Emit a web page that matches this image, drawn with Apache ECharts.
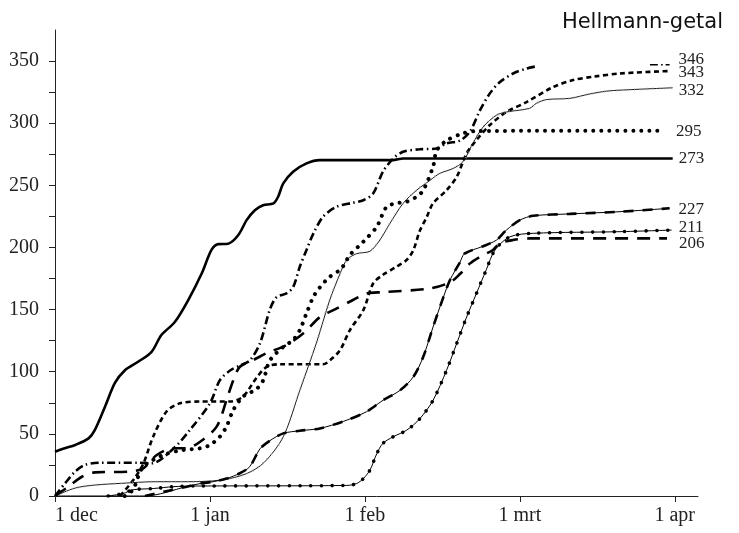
<!DOCTYPE html>
<html><head><meta charset="utf-8">
<script src="https://cdn.jsdelivr.net/npm/echarts@6.0.0/dist/echarts.min.js"></script>
<style>html,body{margin:0;padding:0;background:#fff}#c{width:739px;height:533px}</style>
</head><body><div id="c"></div>
<script>
// x unit: one month = 30 units (months are drawn equally wide); 0 = 1 dec
const monthLabels = ['1 dec', '1 jan', '1 feb', '1 mrt', '1 apr'];
const monthTicks = [0, 30, 60, 90, 120];
const yTicks = [0, 25, 50, 75, 100, 125, 150, 175, 200, 225, 250, 275, 300, 325, 350];
const yLabels = [0, 50, 100, 150, 200, 250, 300, 350];

const s273 = [[0,35.6],[1.9,38.4],[3.9,41],[6.5,46.4],[7.7,53],[9.7,72],[11.6,91],[13.5,101],[16.1,108],[18.7,116],[20.6,129.5],[23.2,140],[25.8,157.7],[28.4,179],[30.3,198],[31.6,202.7],[33.5,203],[35.5,210],[37.1,222],[38.7,230],[40.3,234],[42.3,235.5],[43.2,240.8],[44.2,251.6],[46.1,261],[48.7,267.7],[51.3,270.3],[65.4,270.3],[67.4,271.6],[119.6,271.6]];
const s346 = [[0,0],[1.9,10],[3.9,19.6],[5.8,25],[8.4,26.8],[16.1,26.8],[18.7,26.3],[22.9,38],[26.1,53],[30,74.6],[31.9,93],[33.9,101],[35.8,105],[37.7,109],[39.7,123],[41.6,150],[42.9,160],[44.8,163],[46.1,168],[47.4,184.5],[48.7,198],[50,211],[51.9,224.7],[54.5,232.7],[57.7,236],[59.7,238],[61.6,243.5],[63.5,261],[65.5,271.6],[67.4,277],[70.6,279],[73.9,279.6],[75.8,283.7],[78.4,286],[80.3,293],[82.3,310.5],[84.2,324],[86.1,333],[88.7,340],[91.3,344],[93.5,346]];
const s346end = [[115.2,347],[119,347]];
const s343 = [[12.6,0],[15.2,13],[17.1,26],[19,47.7],[21.6,68],[24.2,74.6],[28.1,76],[33.9,76],[36.4,80],[39,95],[41,104],[43.5,106],[51.9,106],[53.2,109],[55.2,117.5],[57.1,133.5],[59.7,149.6],[61.6,171],[63.5,178],[66.1,184.5],[68.1,190],[69.4,198],[70.6,213],[72,224.7],[73.2,235.5],[75.8,246],[77.8,257],[79.7,275.7],[81.6,286.4],[84.2,298.5],[87.4,309],[91.3,317],[96.4,329],[100.3,334.7],[104.2,337.4],[109.4,340],[119,342]];
const s332 = [[0,0],[3.9,6.4],[7.7,8.8],[12.9,10.2],[19.4,11.5],[25.8,11.5],[32.3,12.9],[37.1,18],[40.5,27],[44.2,47.7],[47.4,85],[50.6,123],[53.2,157.7],[55.2,179],[56.5,190],[58.4,195],[61,197],[62.9,206],[64.8,219],[67.4,235.5],[70,246],[72.6,254],[74.5,259.6],[77.1,263.6],[79,269],[80.9,283.7],[82.9,297],[85.5,306.5],[87.4,309],[91.9,312],[93.2,316],[95.2,319],[99.7,320],[103.5,323.5],[106.8,325.8],[109.4,326.6],[119.6,328.5]];
const s295 = [[13.5,0],[15.1,5],[16.1,15.5],[17.1,23.6],[19,29],[21.6,34],[24.8,37],[28.1,38.4],[30,41],[31.9,47.7],[33.2,55.8],[34.5,69],[36.4,80],[39,86],[40.3,93],[41.6,109],[44.2,120],[46.1,125.5],[47.4,133.5],[48.7,147],[50,160],[51.3,168],[53.2,176.4],[55.2,182],[56.1,187],[57.1,194],[59.7,204.6],[62.3,216.7],[64.2,232.7],[66.1,235.5],[68.1,236.8],[70,240.8],[71.3,246],[73.2,265],[73.9,278],[75.8,286],[79,291.8],[81.6,293.7],[117.7,294]];
const s206 = [[0,0],[2.6,7.5],[5.2,15.5],[7.7,19],[14.5,19.6],[17.1,22.3],[19.7,33],[22.9,38.4],[25.5,38.4],[28.1,43.7],[31.3,55.8],[33.2,77],[34.5,93],[35.8,104],[38.4,109.4],[41,115],[44.8,121.5],[48.1,131],[51.3,144],[53.9,149.6],[57.7,157.7],[60.3,163],[63.5,164],[72.6,167],[76.5,172],[78.4,178.6],[80.3,187],[82.3,192.5],[84.8,198],[86.1,203.3],[88.7,206],[91.9,207.3],[118.5,207.3]];
const s227 = [[0,0],[17.4,0],[25.5,7.5],[28.1,10],[30.6,11.5],[33.2,14],[35.8,18.3],[37.7,23.6],[39.7,38],[41.6,44.5],[44.2,50.4],[47.4,52.5],[51.3,54.4],[55.8,60],[60.3,67.8],[63.5,77],[66.8,85],[69.4,96],[71.3,112],[73.2,136],[75.2,160],[76.5,174],[78.4,188],[79.3,195],[82.9,201],[85.5,206],[87.4,214],[90,222],[92.6,225.5],[99.7,227],[109.4,228.8],[119,231.5]];
const s211 = [[10.3,0],[13.2,2],[15.1,5],[19,6],[22.9,7.5],[26.8,8],[56.5,8.5],[58.4,10],[59.7,14],[61,21],[62.3,34],[63.5,42.4],[65.5,47.7],[68.1,53],[70.6,62],[73.2,77],[75.8,101],[77.8,123],[79.7,144],[81.6,163],[83.5,182],[85.2,198],[88.1,208.6],[92.6,211.4],[109.4,212.7],[119.4,214]];

const SERIF = 'Liberation Serif';
function line(data, ls, extra) {
  return Object.assign({
    type: 'line', data: data, smooth: 0.3,
    symbol: 'none', showSymbol: false, silent: true, animation: false,
    lineStyle: Object.assign({ color: '#000', width: 1 }, ls)
  }, extra || {});
}
function endLab(text, dist, dy) {
  return { endLabel: { show: true, formatter: text, distance: dist, offset: [0, dy],
    fontFamily: SERIF, fontSize: 17, color: '#222' } };
}

const chart = echarts.init(document.getElementById('c'), null, { renderer: 'canvas' });
chart.setOption({
  animation: false,
  backgroundColor: '#fff',
  title: { text: 'Hellmann-getal', right: 11, top: 7,
    textStyle: { fontFamily: 'DejaVu Sans', fontSize: 21, fontWeight: 'normal', color: '#111' } },
  grid: { left: 55, right: 41, top: 30, bottom: 37, containLabel: false },
  xAxis: {
    type: 'value', min: 0, max: 124.5, interval: 30,
    axisLine: { show: true, lineStyle: { color: '#222', width: 1 } },
    axisTick: { show: true, length: 6, inside: false, customValues: monthTicks, lineStyle: { color: '#222' } },
    axisLabel: { customValues: monthTicks, formatter: function (v) { return monthLabels[Math.round(v / 30)]; },
      fontFamily: SERIF, fontSize: 20, color: '#222', margin: 10, alignMinLabel: 'left' },
    splitLine: { show: false }
  },
  yAxis: {
    type: 'value', min: 0, max: 375, interval: 25,
    axisLine: { show: true, lineStyle: { color: '#222', width: 1 } },
    axisTick: { show: true, length: 6, inside: false, customValues: yTicks, lineStyle: { color: '#222' } },
    axisLabel: { customValues: yLabels, fontFamily: SERIF, fontSize: 20, color: '#222', margin: 16 },
    splitLine: { show: false }
  },
  series: [
    line(s273, { width: 2.6 }, endLab('273', 6, 0.5)),
    line(s346, { width: 2.6, type: [8, 3.5, 1.5, 3.5] }),
    line(s346end, { width: 1.5, type: [8, 3, 1.5, 3] }, endLab('346', 9, -5)),
    line(s343, { width: 2.6, type: [5, 3.5] }, endLab('343', 9, 2)),
    line(s332, { width: 0.9 }, endLab('332', 6, 3)),
    line(s332, { width: 2.6, color: '#aaa', type: [0.6, 5.5], cap: 'butt' }),
    line(s295, { width: 4, type: [0.01, 8], cap: 'round' }, endLab('295', 13, 1)),
    line(s206, { width: 2.6, type: [13, 9] }, endLab('206', 12, 5)),
    line(s227, { width: 1 }, endLab('227', 9, 1)),
    line(s227.slice(1), { width: 2.6, type: [10, 9] }),
    line(s211, { width: 1 }, endLab('211', 7, -3)),
    line(s211, { width: 3.6, type: [0.01, 10.7], cap: 'round' })
  ]
});
</script>
</body></html>
